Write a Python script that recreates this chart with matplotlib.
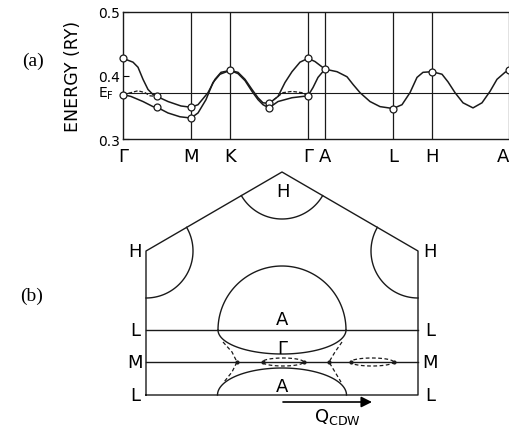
import matplotlib.pyplot as plt
import numpy as np

plt.rcParams['font.family'] = ['DejaVu Sans']

# ---- (a) band structure along the symmetry path (k in arbitrary path units) ----
sym_k = [0.0, 6.8, 10.7, 18.5, 20.2, 27.0, 30.9, 38.6]
sym_labels = ['Γ', 'M', 'K', 'Γ', 'A', 'L', 'H', 'A']
e_fermi = 0.373

# Gamma -> M -> K
k_gmk_up = [0.0, 1.0, 1.5, 2.0, 2.5, 3.0, 3.4, 4.5, 5.8, 6.8, 7.5, 8.5, 9.2, 9.8, 10.7]
e_gmk_up = [.427, .421, .413, .394, .378, .370, .367, .359, .352, .350, .354, .373, .394, .405, .408]
k_gmk_lo = [0.0, 0.8, 2.0, 3.0, 3.4, 4.5, 5.7, 6.8, 7.5, 8.3, 9.0, 9.7, 10.7]
e_gmk_lo = [.370, .367, .359, .351, .350, .341, .335, .333, .341, .362, .389, .402, .408]
k_gmk_dash = [0.0, 0.8, 1.5, 2.2, 2.7, 3.4]
e_gmk_dash = [.370, .373, .376, .373, .368, .367]

# K -> Gamma
k_kg_up = [10.7, 11.5, 12.2, 12.9, 13.5, 14.0, 14.6, 15.5, 16.2, 16.9, 17.7, 18.5]
e_kg_up = [.408, .405, .394, .378, .365, .357, .356, .367, .389, .406, .421, .427]
k_kg_lo = [10.7, 11.5, 12.2, 12.9, 13.5, 14.0, 14.6, 15.5, 16.9, 18.5]
e_kg_lo = [.408, .403, .392, .375, .362, .354, .349, .359, .365, .368]
k_kg_dash = [14.6, 16.0, 16.9, 17.9, 18.5]
e_kg_dash = [.356, .373, .375, .373, .368]

# Gamma -> A
k_ga_up = [18.5, 19.2, 19.7, 20.2]
e_ga_up = [.427, .422, .416, .410]
k_ga_lo = [18.5, 19.0, 19.5, 20.2]
e_ga_lo = [.368, .381, .397, .410]

# A -> L -> H -> A
k_alha = [20.2, 21.4, 22.4, 23.0, 23.7, 24.7, 25.7, 27.0, 27.9, 28.7, 29.4, 30.0,
          30.9, 31.9, 32.5, 33.2, 34.0, 35.0, 35.9, 36.7, 37.4, 38.2, 38.6]
e_alha = [.410, .406, .398, .386, .373, .359, .351, .348, .354, .373, .397, .405,
          .406, .402, .390, .373, .357, .349, .357, .375, .394, .405, .408]

# open circles (calculated points)
mark_k = [0.0, 0.0, 3.4, 3.4, 6.8, 6.8, 10.7, 14.6, 14.6, 18.5, 18.5, 20.2, 27.0, 30.9, 38.6]
mark_e = [.427, .370, .367, .350, .350, .333, .408, .356, .349, .427, .368, .410, .348, .406, .408]

# ---- (b) Fermi surface cross-section (origin at Gamma, pixel-like units) ----
bz_x = [-136, -136, 0, 136, 136, -136]
bz_y = [-33, 111, 190, 111, -33, -33]
h_points = [(0, 190), (-136, 111), (136, 111)]
h_arcs = [(210.2, 329.8), (-90, 30.2), (149.8, 270)]
h_radius = 47
l_upper, m_line, l_lower = 32, 0, -33
dash_left_x = [-59, -50, -45, -50, -58]
dash_left_y = [20, 10, 0, -10, -20]
dash_right_x = [60, 53, 47, 53, 59]
dash_right_y = [20, 10, 0, -10, -20]
pocket_cx = [1, 90]
pocket_a = [20.5, 21.5]
pocket_b = 4

lc = '#1a1a1a'
lw = 1.0

fig = plt.figure(figsize=(5.09, 4.27), dpi=100)

# panel b axes: whole figure, one unit per pixel, Gamma at (282, 363)
axb = fig.add_axes([0, 0, 1, 1])
axb.set_xlim(-282, 227)
axb.set_ylim(-64, 363)
axb.axis('off')

axb.plot(bz_x, bz_y, color=lc, lw=lw)
for (cx, cy), (a0, a1) in zip(h_points, h_arcs):
    t = np.radians(np.linspace(a0, a1, 60))
    axb.plot(cx + h_radius * np.cos(t), cy + h_radius * np.sin(t), color=lc, lw=lw)

axb.plot([-136, 136], [l_upper, l_upper], color=lc, lw=lw)
axb.plot([-136, 136], [m_line, m_line], color=lc, lw=lw)

# upper A dome + lens below L
t = np.radians(np.linspace(0, 180, 80))
axb.plot(64 * np.cos(t), l_upper + 64 * np.sin(t), color=lc, lw=lw)
t = np.radians(np.linspace(180, 360, 80))
axb.plot(64 * np.cos(t), l_upper + 24 * np.sin(t), color=lc, lw=lw)
# lower A dome
t = np.radians(np.linspace(0, 180, 80))
axb.plot(64.5 * np.cos(t), l_lower + 27 * np.sin(t), color=lc, lw=lw)

# dashed necks and pockets
axb.plot(dash_left_x, dash_left_y, color=lc, lw=0.9, ls=(0, (3, 2)))
axb.plot(dash_right_x, dash_right_y, color=lc, lw=0.9, ls=(0, (3, 2)))
t = np.linspace(0, 2 * np.pi, 100)
for cx, a in zip(pocket_cx, pocket_a):
    axb.plot(cx + a * np.cos(t), pocket_b * np.sin(t), color=lc, lw=0.9, ls=(0, (3, 2)))
    axb.plot([cx - a, cx + a], [0, 0], 'o', color=lc, ms=2)
axb.plot([dash_left_x[2], dash_right_x[2]], [0, 0], 'o', color=lc, ms=2)

# Q_CDW arrow
axb.annotate('', xy=(pocket_cx[1], -40), xytext=(pocket_cx[0], -40),
             arrowprops=dict(arrowstyle='-|>', mutation_scale=16, color='k', lw=1.2,
                             shrinkA=0, shrinkB=0))
axb.text(55, -54, r'$\mathregular{Q_{CDW}}$', ha='center', va='center', fontsize=13)

fs = 13
axb.text(1, 171, 'H', ha='center', va='center', fontsize=fs)
axb.text(-147, 111, 'H', ha='center', va='center', fontsize=fs)
axb.text(148, 111, 'H', ha='center', va='center', fontsize=fs)
for yy, lab in [(l_upper, 'L'), (m_line, 'M'), (l_lower, 'L')]:
    axb.text(-147, yy, lab, ha='center', va='center', fontsize=fs)
    axb.text(148, yy, lab, ha='center', va='center', fontsize=fs)
axb.text(0, 43, 'A', ha='center', va='center', fontsize=fs)
axb.text(0, -24, 'A', ha='center', va='center', fontsize=fs)
axb.text(0, 14, 'Γ', ha='center', va='center', fontsize=fs)

# panel a axes
axa = fig.add_axes([123 / 509, (427 - 140) / 427, 390 / 509, 127 / 427])
axa.set_xlim(0, 39.0)
axa.set_ylim(0.3, 0.5)
axa.patch.set_visible(False)
axa.spines['right'].set_visible(False)
for s in ['left', 'bottom', 'top']:
    axa.spines[s].set_linewidth(1.0)
    axa.spines[s].set_color(lc)

for k in sym_k[1:]:
    axa.axvline(k, color=lc, lw=0.9)
axa.axhline(e_fermi, color=lc, lw=0.8)

for kk, ee in [(k_gmk_up, e_gmk_up), (k_gmk_lo, e_gmk_lo), (k_kg_up, e_kg_up),
               (k_kg_lo, e_kg_lo), (k_ga_up, e_ga_up), (k_ga_lo, e_ga_lo),
               (k_alha, e_alha)]:
    axa.plot(kk, ee, color=lc, lw=1.1, clip_on=False)
for kk, ee in [(k_gmk_dash, e_gmk_dash), (k_kg_dash, e_kg_dash)]:
    axa.plot(kk, ee, color=lc, lw=0.9, ls=(0, (3, 1.5)))
axa.plot(mark_k, mark_e, 'o', ms=5, mfc='white', mec=lc, mew=0.9, clip_on=False, zorder=5)

axa.set_xticks(sym_k)
axa.set_xticklabels(sym_labels, fontsize=fs)
axa.get_xticklabels()[-1].set_horizontalalignment('right')
axa.tick_params(axis='x', length=0, pad=6)
axa.set_yticks([0.3, 0.4, 0.5])
axa.set_yticklabels(['0.3', '0.4', '0.5'], fontsize=10)
axa.tick_params(axis='y', direction='in', length=4, pad=2)
axa.text(-0.9, e_fermi, r'$\mathregular{E_F}$', ha='right', va='center', fontsize=10)
axa.set_ylabel('ENERGY (RY)', fontsize=12.5, labelpad=12)

fig.text(33 / 509, 1 - 61 / 427, '(a)', ha='center', va='center', fontsize=14,
         family='Liberation Serif')
fig.text(32 / 509, 1 - 296 / 427, '(b)', ha='center', va='center', fontsize=14,
         family='Liberation Serif')

fig.savefig('out.png', dpi=100)
